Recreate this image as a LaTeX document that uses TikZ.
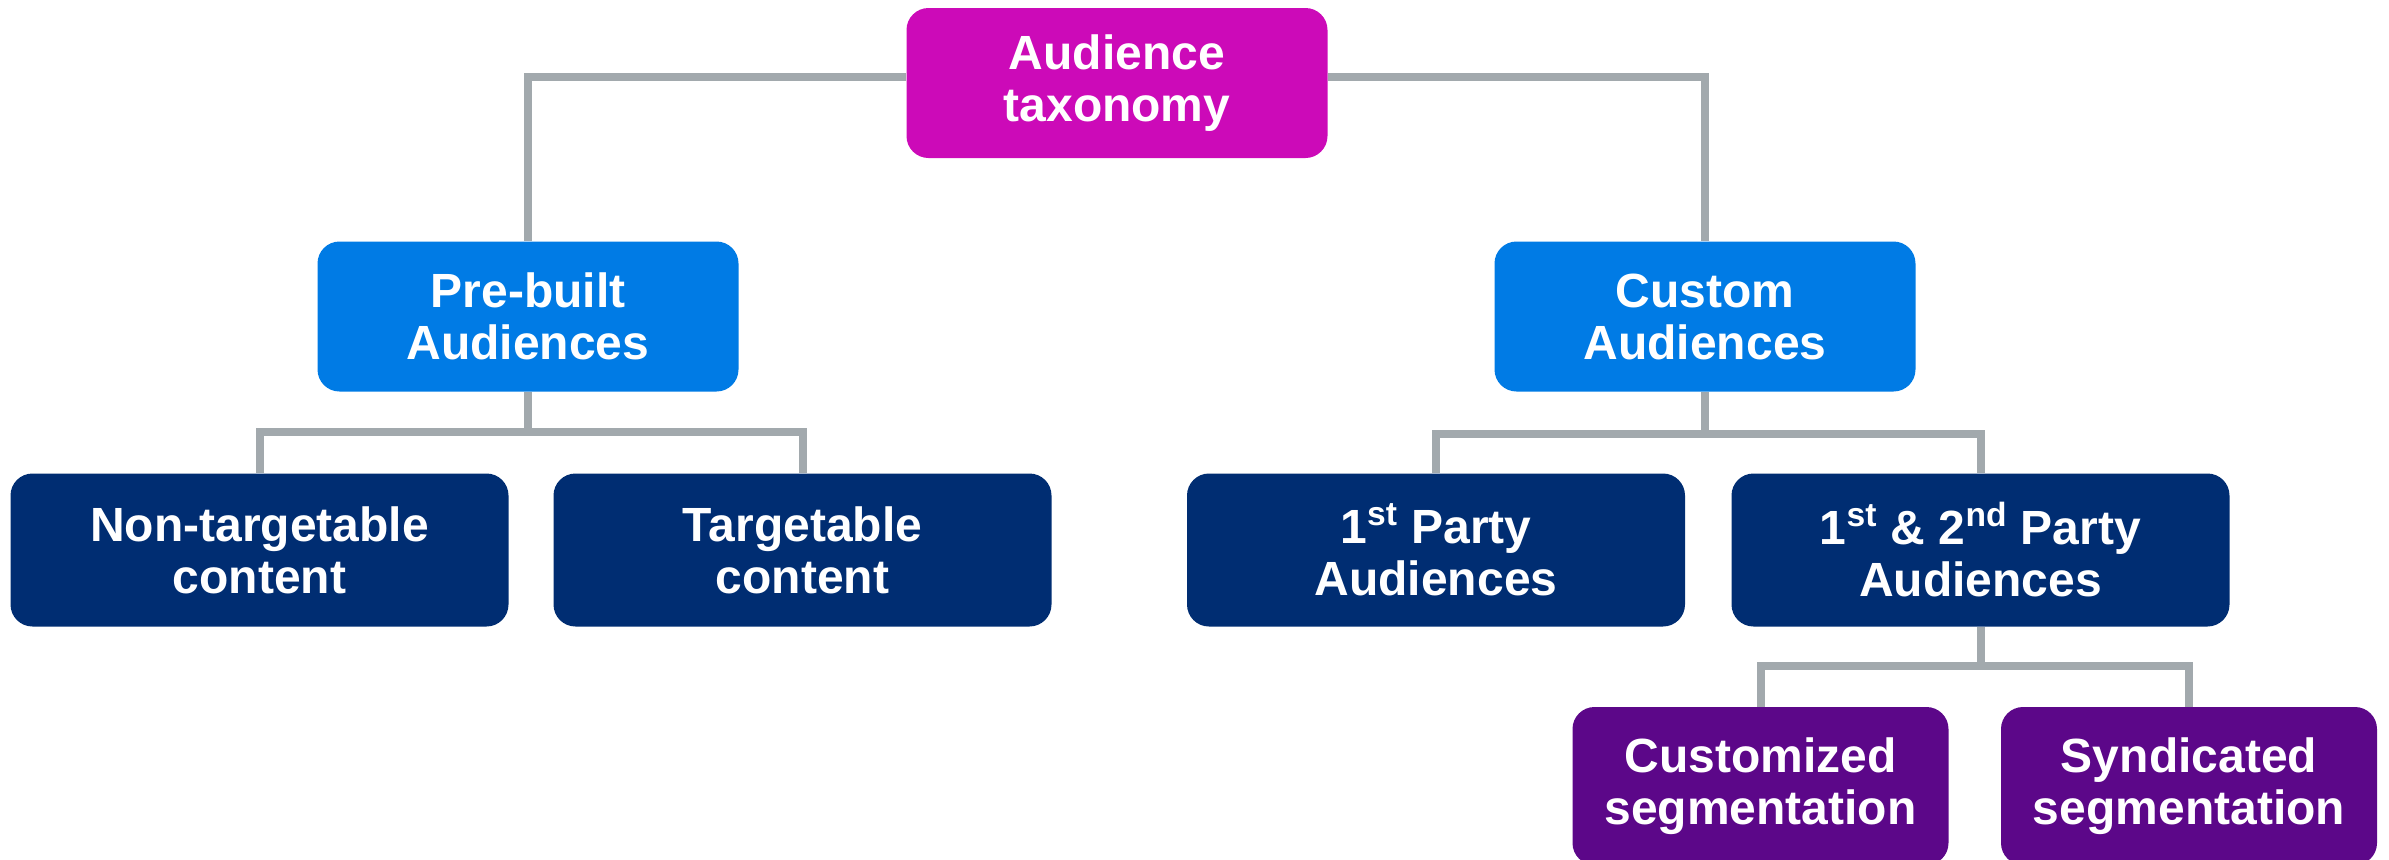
\documentclass[tikz,border=0pt]{standalone}
\usepackage{fontspec}
\setmainfont{Liberation Sans}
\usetikzlibrary{backgrounds}
\definecolor{cTax}{RGB}{204,10,184}
\definecolor{cBlue}{RGB}{0,123,229}
\definecolor{cNavy}{RGB}{0,45,114}
\definecolor{cPurple}{RGB}{92,7,137}
\definecolor{cLine}{RGB}{162,169,173}
\tikzset{
  box/.style={rounded corners=11pt, inner sep=0pt, align=center, text=white,
    font=\fontsize{24}{26}\selectfont\bfseries},
  topbox/.style={box, minimum width=210.5pt, minimum height=75pt},
  midbox/.style={box, minimum width=249pt, minimum height=76.5pt},
  lowbox/.style={box, minimum width=188pt, minimum height=79pt},
  conn/.style={draw=cLine, line width=4pt}
}
\begin{document}
\begin{tikzpicture}[x=0.5pt,y=-0.5pt]
\path[use as bounding box] (0,0) rectangle (2389,859);
\node[topbox, fill=cTax] (tax) at (1117,83) {Audience\\taxonomy};
\node[topbox, fill=cBlue] (pre) at (528,316.5) {Pre-built\\Audiences};
\node[topbox, fill=cBlue] (cus) at (1705,316.5) {Custom\\Audiences};
\node[midbox, fill=cNavy] (non) at (259.5,550) {Non-targetable\\content};
\node[midbox, fill=cNavy] (tgt) at (802.5,550) {Targetable\\content};
\node[midbox, fill=cNavy] (p1) at (1436,550) {1\textsuperscript{st} Party\\Audiences};
\node[midbox, fill=cNavy] (p12) at (1980.5,550) {1\textsuperscript{st} \& 2\textsuperscript{nd} Party\\Audiences};
\node[lowbox, fill=cPurple] (cz) at (1760.5,786) {Customized\\segmentation};
\node[lowbox, fill=cPurple] (sy) at (2189,786) {Syndicated\\segmentation};
\begin{scope}[on background layer]
\draw[conn] ([yshift=3pt]tax.west) -| (pre.north);
\draw[conn] ([yshift=3pt]tax.east) -| (cus.north);
\draw[conn] (pre.south) -- ++(0,40) -| (non.north);
\draw[conn] (pre.south) -- ++(0,40) -| (tgt.north);
\draw[conn] (cus.south) -- ++(0,42) -| (p1.north);
\draw[conn] (cus.south) -- ++(0,42) -| (p12.north);
\draw[conn] (p12.south) -- ++(0,39) -| (cz.north);
\draw[conn] (p12.south) -- ++(0,39) -| (sy.north);
\end{scope}
\end{tikzpicture}
\end{document}
